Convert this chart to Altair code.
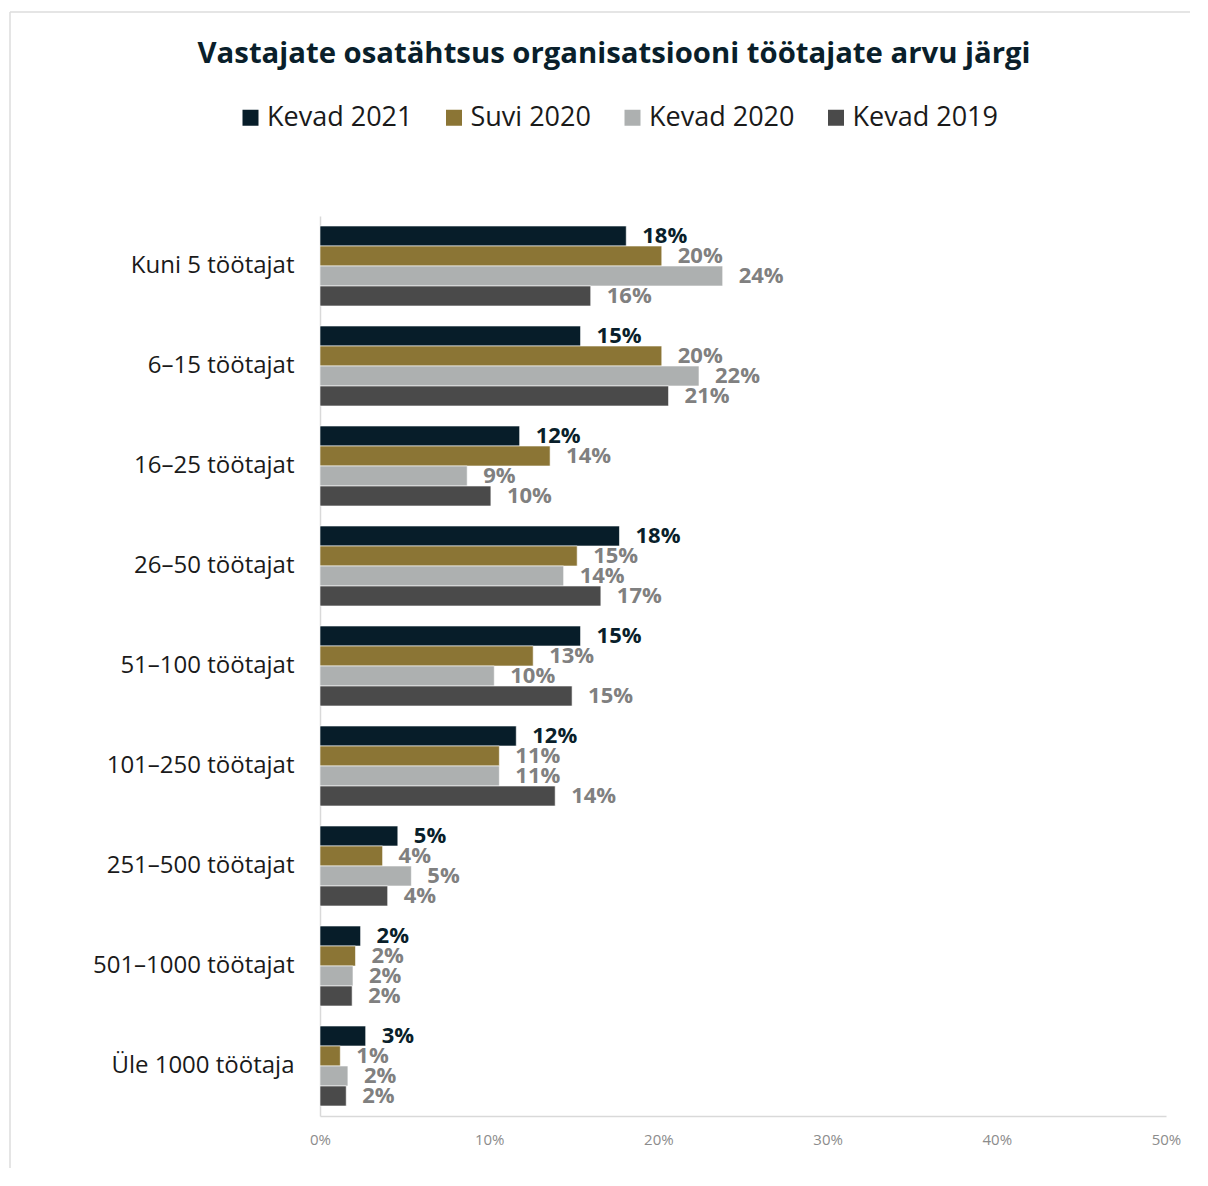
import altair as alt
import pandas as pd
import math

categories = ["Kuni 5 töötajat", "6–15 töötajat", "16–25 töötajat", "26–50 töötajat",
              "51–100 töötajat", "101–250 töötajat", "251–500 töötajat",
              "501–1000 töötajat", "Üle 1000 töötaja"]
series = ["Kevad 2021", "Suvi 2020", "Kevad 2020", "Kevad 2019"]
colors = ["#071d29", "#8b7535", "#adb0b0", "#4a4a4a"]

kevad_2021 = [18.1, 15.4, 11.8, 17.7, 15.4, 11.6, 4.6, 2.4, 2.7]
suvi_2020 = [20.2, 20.2, 13.6, 15.2, 12.6, 10.6, 3.7, 2.1, 1.2]
kevad_2020 = [23.8, 22.4, 8.7, 14.4, 10.3, 10.6, 5.4, 1.95, 1.65]
kevad_2019 = [16.0, 20.6, 10.1, 16.6, 14.9, 13.9, 4.0, 1.9, 1.55]

values = [kevad_2021, suvi_2020, kevad_2020, kevad_2019]
rows = []
for s, vals in zip(series, values):
    for c, v in zip(categories, vals):
        rows.append({"cat": c, "series": s, "value": v,
                     "label": f"{int(math.floor(v + 0.5))}%"})
df = pd.DataFrame(rows)

y_enc = alt.Y("cat:N", sort=categories,
              scale=alt.Scale(paddingInner=0.2, paddingOuter=0.1),
              axis=alt.Axis(title=None, ticks=False, labelFontSize=24,
                            labelFont="Open Sans", labelColor="#1a1a1a",
                            labelPadding=26, labelLimit=400,
                            domainColor="#d9d9d9", domainWidth=1.5))
yoff = alt.YOffset("series:N", sort=series,
                   scale=alt.Scale(paddingInner=0, paddingOuter=0))
x_enc = alt.X("value:Q", scale=alt.Scale(domain=[0, 50]),
              axis=alt.Axis(title=None, values=[0, 10, 20, 30, 40, 50],
                            labelExpr="datum.value + '%'", ticks=False,
                            grid=False, labelFontSize=15, labelFont="Open Sans",
                            labelColor="#8c8c8c", labelPadding=16,
                            labelFlush=False,
                            domainColor="#d9d9d9", domainWidth=1.5))

base = alt.Chart(df)

bars = base.mark_bar(stroke="white", strokeWidth=0.6).encode(
    x=x_enc, y=y_enc, yOffset=yoff,
    color=alt.Color("series:N", sort=series,
                    scale=alt.Scale(domain=series, range=colors),
                    legend=alt.Legend(title=None, orient="none", legendX=-83,
                                      legendY=-112, direction="horizontal",
                                      symbolType="square", symbolSize=256,
                                      symbolStrokeWidth=0, labelFontSize=27,
                                      labelFont="Open Sans", labelColor="#1a1a1a",
                                      columnPadding=27.5, labelOffset=3))
)

labels = base.mark_text(align="left", baseline="middle", dx=16,
                        fontSize=22, font="Open Sans", fontWeight="bold").encode(
    x="value:Q", y=alt.Y("cat:N", sort=categories), yOffset=yoff,
    text="label:N",
    color=alt.condition(alt.datum.series == "Kevad 2021",
                        alt.value("#0a1f2b"), alt.value("#808080"))
)

frame_df = pd.DataFrame({"a": [0]})
frame_left = alt.Chart(frame_df).mark_rule(color="#dcdcdc", strokeWidth=1.5).encode(
    x=alt.value(-310), y=alt.value(-204), y2=alt.value(952))
frame_top = alt.Chart(frame_df).mark_rule(color="#dcdcdc", strokeWidth=1.5).encode(
    x=alt.value(-310), x2=alt.value(870), y=alt.value(-204))

chart = alt.layer(frame_left, frame_top, bars, labels).properties(
    width=846, height=900,
    padding={"left": 1, "top": 3, "right": 0, "bottom": 0},
    title=alt.TitleParams(
        "Vastajate osatähtsus organisatsiooni töötajate arvu järgi",
        fontSize=29.3, font="Open Sans", fontWeight="bold", color="#0a1f2b",
        frame="group", anchor="middle", dx=-129, offset=-58)
).configure_view(stroke=None)

chart.save("out.html", embed_options={"renderer": "svg", "actions": False})
